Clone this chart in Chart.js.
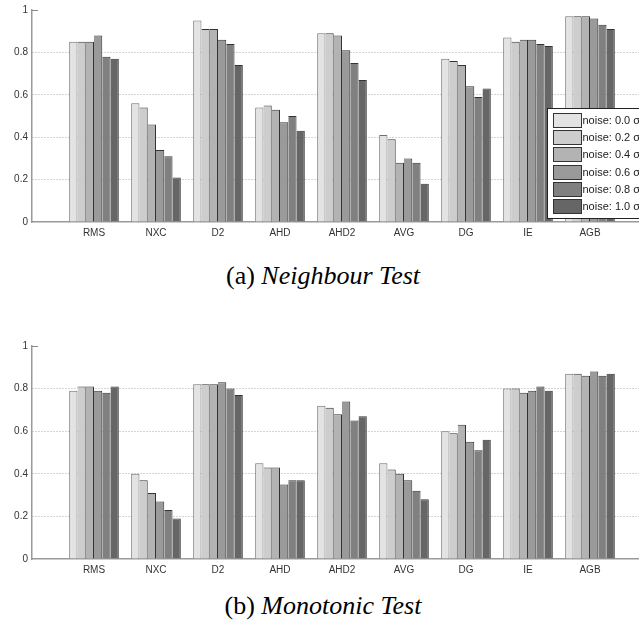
<!DOCTYPE html>
<html lang="en">
<head>
    <meta charset="UTF-8">
    <title>Neighbour / Monotonic Test</title>
    <script src="https://cdn.jsdelivr.net/npm/chart.js"></script>
    <style>
        body {
            margin: 0;
            padding: 0;
            background: #ffffff;
            width: 639px;
            height: 628px;
            overflow: hidden;
            position: relative;
        }

        canvas {
            position: absolute;
            left: 0;
        }

        #chartA { top: 0; }
        #chartB { top: 336px; }

        .caption {
            position: absolute;
            left: 0;
            width: 646px;
            text-align: center;
            font-family: 'Liberation Serif', 'Times New Roman', serif;
            font-size: 26px;
            line-height: 26px;
            color: #000;
        }

        .caption em { font-style: italic; }
    </style>
</head>
<body>
    <canvas id="chartA" width="660" height="242"></canvas>
    <div class="caption" style="top: 263px;">(a) <em>Neighbour Test</em></div>
    <canvas id="chartB" width="660" height="243"></canvas>
    <div class="caption" style="top: 593px;">(b) <em>Monotonic Test</em></div>

    <script>
        // categories and series
        const categories = ['RMS', 'NXC', 'D2', 'AHD', 'AHD2', 'AVG', 'DG', 'IE', 'AGB'];
        const noiseLabels = ['noise: 0.0 σ', 'noise: 0.2 σ', 'noise: 0.4 σ', 'noise: 0.6 σ', 'noise: 0.8 σ', 'noise: 1.0 σ'];
        const yTicks = [0, 0.2, 0.4, 0.6, 0.8, 1];

        // (a) neighbour test, one array per noise level
        const neighbour00 = [0.85, 0.56, 0.95, 0.54, 0.89, 0.41, 0.77, 0.87, 0.97];
        const neighbour02 = [0.85, 0.54, 0.91, 0.55, 0.89, 0.39, 0.76, 0.85, 0.97];
        const neighbour04 = [0.85, 0.46, 0.91, 0.53, 0.88, 0.28, 0.74, 0.86, 0.97];
        const neighbour06 = [0.88, 0.34, 0.86, 0.47, 0.81, 0.30, 0.64, 0.86, 0.96];
        const neighbour08 = [0.78, 0.31, 0.84, 0.50, 0.75, 0.28, 0.59, 0.84, 0.93];
        const neighbour10 = [0.77, 0.21, 0.74, 0.43, 0.67, 0.18, 0.63, 0.83, 0.91];

        // (b) monotonic test
        const monotonic00 = [0.79, 0.40, 0.82, 0.45, 0.72, 0.45, 0.60, 0.80, 0.87];
        const monotonic02 = [0.81, 0.37, 0.82, 0.43, 0.71, 0.42, 0.59, 0.80, 0.87];
        const monotonic04 = [0.81, 0.31, 0.82, 0.43, 0.68, 0.40, 0.63, 0.78, 0.86];
        const monotonic06 = [0.79, 0.27, 0.83, 0.35, 0.74, 0.37, 0.55, 0.79, 0.88];
        const monotonic08 = [0.78, 0.23, 0.80, 0.37, 0.65, 0.32, 0.51, 0.81, 0.86];
        const monotonic10 = [0.81, 0.19, 0.77, 0.37, 0.67, 0.28, 0.56, 0.79, 0.87];

        const barColors = ['#e3e3e3', '#cdcdcd', '#b3b3b3', '#9a9a9a', '#808080', '#666666'];
        const edgeColors = ['#6e6e6e', '#333333', '#333333', '#333333', '#333333', '#333333'];

        // empty slot at both ends so the axis runs from 0 to 10
        const axisLabels = [''].concat(categories, ['']);

        function makeDatasets(series) {
            return series.map((vals, i) => ({
                label: noiseLabels[i],
                data: [null].concat(vals, [null]),
                backgroundColor: barColors[i],
                borderColor: edgeColors[i],
                borderWidth: { top: 1, right: 1, bottom: 0, left: i === 0 ? 1 : 0 },
                borderSkipped: false,
                barPercentage: 1.0,
                categoryPercentage: 0.8
            }));
        }

        // small inside tick at the top of the y axis
        const topTick = {
            id: 'topTick',
            afterDraw(chart) {
                const ctx = chart.ctx;
                const y = chart.scales.y.getPixelForValue(1);
                const x = chart.chartArea.left;
                ctx.save();
                ctx.strokeStyle = '#8c8c8c';
                ctx.lineWidth = 1;
                ctx.beginPath();
                ctx.moveTo(x, Math.round(y) + 0.5);
                ctx.lineTo(x + 6, Math.round(y) + 0.5);
                ctx.stroke();
                ctx.restore();
            }
        };

        // legend box sitting inside the plot, cut by the right edge
        const boxLegend = {
            id: 'boxLegend',
            afterDraw(chart) {
                const ctx = chart.ctx;
                const left = chart.chartArea.left + 515.5;
                const top = 108.5;
                ctx.save();
                ctx.fillStyle = '#ffffff';
                ctx.fillRect(left, top, 200, 110);
                ctx.strokeStyle = '#222222';
                ctx.lineWidth = 1;
                ctx.strokeRect(left, top, 200, 110);
                ctx.font = '11px "Liberation Sans", Arial, sans-serif';
                ctx.textBaseline = 'middle';
                chart.data.datasets.forEach((ds, i) => {
                    const cy = top + 11.5 + i * 17.2;
                    const sy = Math.round(cy - 7) + 0.5;
                    ctx.fillStyle = ds.backgroundColor;
                    ctx.fillRect(left + 6, sy, 28, 14);
                    ctx.strokeStyle = '#333333';
                    ctx.strokeRect(left + 6, sy, 28, 14);
                    ctx.fillStyle = '#222222';
                    ctx.fillText(ds.label, left + 35, cy + 1);
                });
                ctx.restore();
            }
        };

        function drawChart(id, series, withLegend) {
            const ctx = document.getElementById(id).getContext('2d');
            return new Chart(ctx, {
                type: 'bar',
                data: {
                    labels: axisLabels,
                    datasets: makeDatasets(series)
                },
                options: {
                    responsive: false,
                    animation: false,
                    devicePixelRatio: 1,
                    layout: { padding: { top: 6, right: 8, bottom: 0, left: 0 } },
                    plugins: {
                        legend: { display: false },
                        tooltip: { enabled: false }
                    },
                    scales: {
                        x: {
                            offset: false,
                            grid: { display: false, drawTicks: false },
                            border: { color: '#999999', width: 1.5 },
                            ticks: {
                                autoSkip: false,
                                maxRotation: 0,
                                padding: 5,
                                color: '#333333',
                                font: { family: '"Liberation Sans", Arial, sans-serif', size: 10 }
                            },
                            afterFit(scale) { scale.height = 20; }
                        },
                        y: {
                            min: 0,
                            max: 1,
                            afterBuildTicks(scale) {
                                scale.ticks = yTicks.map(v => ({ value: v }));
                            },
                            grid: {
                                drawTicks: false,
                                color: ctx => (ctx.tick && (ctx.tick.value === 0 || ctx.tick.value === 1)) ? 'rgba(0,0,0,0)' : '#a8a8a8',
                                lineWidth: 1
                            },
                            // in v4 border.dash sets the dash of the grid lines
                            border: { color: '#999999', width: 1.5, dash: [1, 2] },
                            ticks: {
                                padding: 4,
                                color: '#333333',
                                font: { family: '"Liberation Sans", Arial, sans-serif', size: 10 },
                                callback: v => String(Math.round(v * 10) / 10)
                            },
                            afterFit(scale) { scale.width = 32; }
                        }
                    }
                },
                plugins: withLegend ? [topTick, boxLegend] : [topTick]
            });
        }

        drawChart('chartA', [neighbour00, neighbour02, neighbour04, neighbour06, neighbour08, neighbour10], true);
        drawChart('chartB', [monotonic00, monotonic02, monotonic04, monotonic06, monotonic08, monotonic10], false);
    </script>
</body>
</html>
